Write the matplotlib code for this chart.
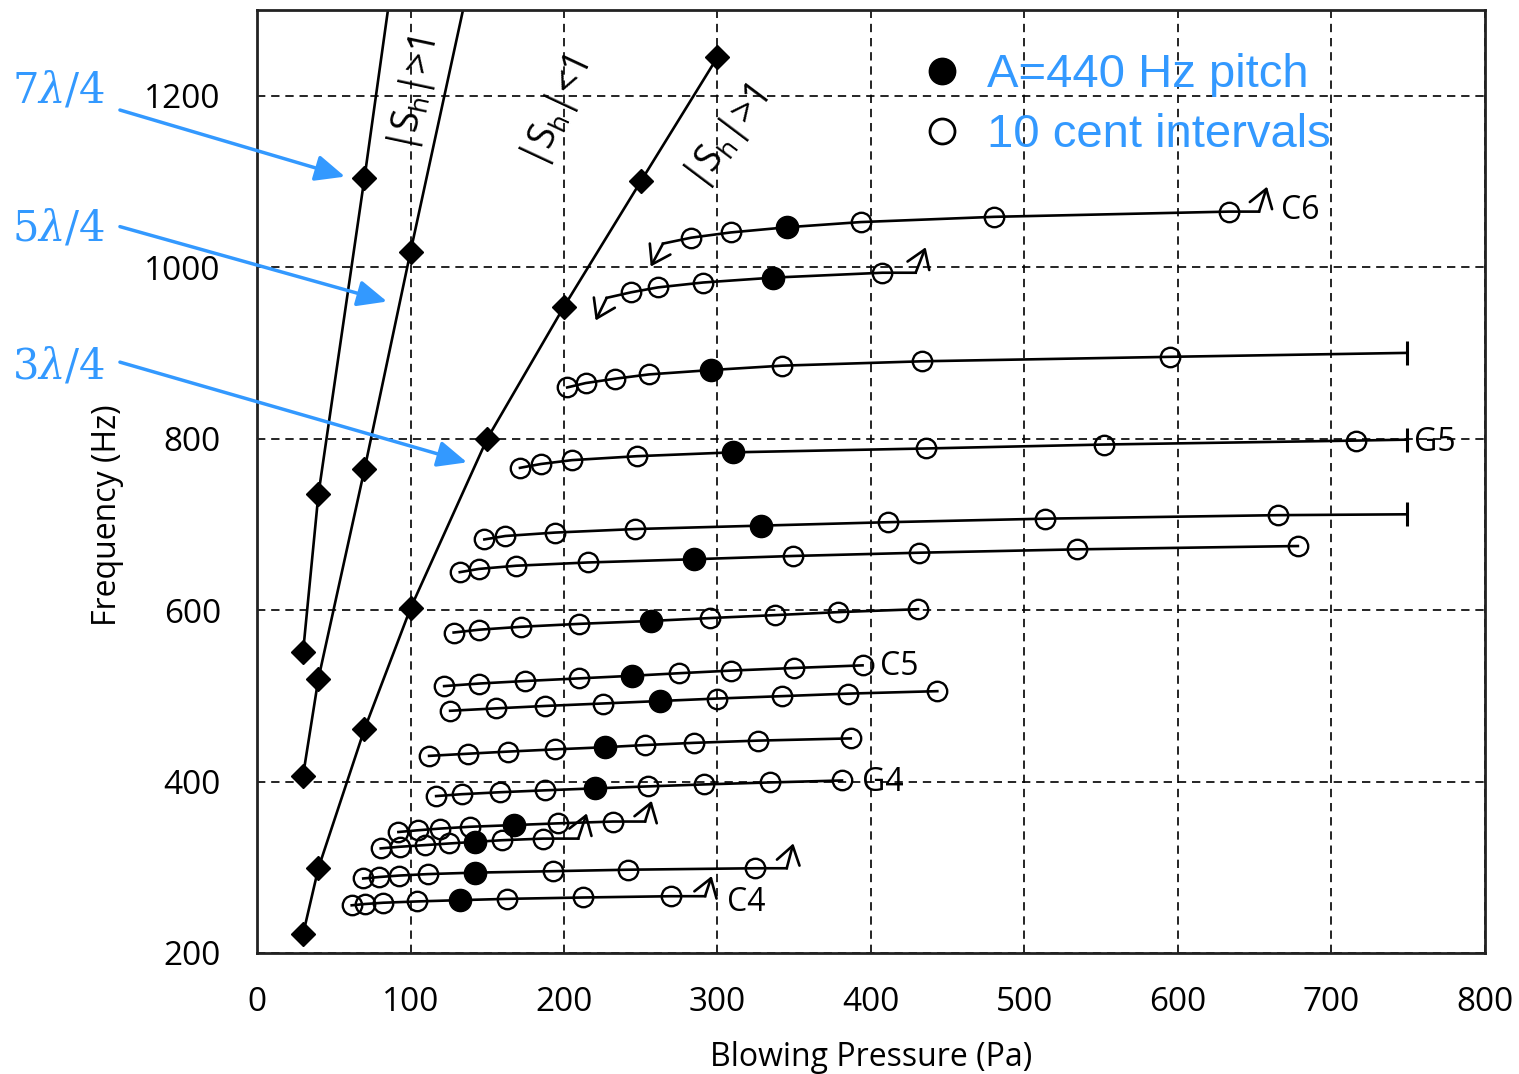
import matplotlib
matplotlib.use("Agg")
import matplotlib.pyplot as plt
from matplotlib.lines import Line2D

plt.rcParams['font.family'] = ['Open Sans', 'DejaVu Sans']

# resonance curves (diamonds): blowing pressure (Pa) vs frequency (Hz)
res_pa = [30, 40, 70, 100, 150, 200, 250, 300]
res3_hz = [222, 299, 461, 602, 800, 954, 1100, 1245]
res5_hz = [407, 520, 764, 1018]
res7_hz = [551, 735, 1104]
# the two upper curves run on out of the top of the plot
res5_top = [134.2, 1300]
res7_top = [85.3, 1300]

# played notes, 10 cent steps around the A=440 pitch
c4_pa = [61.7, 70.4, 82.3, 104.4, 132.2, 162.7, 212.4, 269.7]
c4_hz = [255.6, 257.1, 258.6, 260.1, 261.6, 263.1, 264.7, 266.2]
d4_pa = [69.2, 79.7, 92.7, 111.2, 142.0, 192.8, 241.7, 324.4]
d4_hz = [286.9, 288.6, 290.3, 292.0, 293.7, 295.4, 297.1, 298.8]
e4_pa = [80.6, 93.2, 109.4, 125.1, 142.0, 159.4, 186.3]
e4_hz = [322.0, 323.9, 325.8, 327.7, 329.6, 331.5, 333.4]
f4_pa = [92.1, 104.7, 119.2, 138.8, 167.6, 196.1, 231.9]
f4_hz = [341.1, 343.1, 345.1, 347.2, 349.2, 351.2, 353.3]
g4_pa = [116.7, 133.4, 158.4, 187.4, 219.9, 254.8, 291.3, 334.3, 381.1]
g4_hz = [383.0, 385.2, 387.5, 389.7, 392.0, 394.3, 396.6, 398.9, 401.2]
a4_pa = [112.1, 137.2, 163.5, 194.3, 226.7, 252.5, 284.5, 326.3, 386.8]
a4_hz = [429.9, 432.4, 434.9, 437.5, 440.0, 442.5, 445.1, 447.7, 450.3]
b4_pa = [125.8, 155.5, 187.4, 225.1, 262.3, 300.0, 342.3, 384.9, 443.2]
b4_hz = [482.5, 485.3, 488.1, 491.0, 493.9, 496.8, 499.6, 502.5, 505.4]
c5_pa = [121.9, 144.8, 174.4, 209.8, 244.0, 274.7, 309.1, 349.6, 394.5]
c5_hz = [511.3, 514.3, 517.2, 520.3, 523.3, 526.3, 529.4, 532.4, 535.5]
d5_pa = [128.1, 144.8, 172.1, 209.8, 256.6, 295.4, 337.7, 378.8, 430.6]
d5_hz = [573.8, 577.1, 580.5, 583.9, 587.3, 590.7, 594.1, 597.6, 601.0]
e5_pa = [132.1, 144.6, 168.7, 215.4, 284.6, 349.5, 431.5, 534.1, 678.1]
e5_hz = [644.2, 648.0, 651.7, 655.5, 659.3, 663.1, 666.9, 670.8, 674.7]
f5_pa = [148.1, 161.8, 194.2, 246.3, 328.5, 411.3, 513.1, 664.9]
f5_hz = [682.4, 686.4, 690.4, 694.5, 698.5, 702.5, 706.6, 710.7]
g5_pa = [171.3, 185.0, 205.2, 247.6, 310.1, 435.8, 551.8, 716.0]
g5_hz = [765.9, 770.4, 774.9, 779.5, 784.0, 788.5, 793.1, 797.7]
a5_pa = [202.1, 214.1, 233.0, 255.4, 296.0, 342.2, 433.4, 594.8]
a5_hz = [859.7, 864.8, 869.8, 874.9, 880.0, 885.1, 890.2, 895.4]
b5_pa = [243.8, 261.2, 290.6, 336.4, 407.4]
b5_hz = [970.7, 976.4, 982.1, 987.8, 993.5]
c6_pa = [282.9, 308.6, 345.1, 393.3, 480.1, 633.2]
c6_hz = [1034.4, 1040.5, 1046.5, 1052.6, 1058.7, 1064.8]

notes = ['C4', 'D4', 'E4', 'F4', 'G4', 'A4', 'B4', 'C5', 'D5', 'E5', 'F5', 'G5', 'A5', 'B5', 'C6']
notes_pa = [c4_pa, d4_pa, e4_pa, f4_pa, g4_pa, a4_pa, b4_pa, c5_pa, d5_pa, e5_pa, f5_pa, g5_pa, a5_pa, b5_pa, c6_pa]
notes_hz = [c4_hz, d4_hz, e4_hz, f4_hz, g4_hz, a4_hz, b4_hz, c5_hz, d5_hz, e5_hz, f5_hz, g5_hz, a5_hz, b5_hz, c6_hz]
# index of the A=440 pitch point on each line
pitch_idx = [4, 4, 4, 4, 4, 4, 4, 4, 4, 4, 4, 4, 4, 3, 2]

# jumps to the next regime: line bends, then an arrow
jump_note = ['C4', 'D4', 'E4', 'F4', 'B5', 'C6', 'B5', 'C6']
jump_side = ['right', 'right', 'right', 'right', 'right', 'right', 'left', 'left']
jump_bend_pa = [291.9, 345.1, 209.3, 252.8, 429.1, 652.8, 227.8, 264.5]
jump_bend_hz = [266.2, 298.8, 333.4, 353.3, 993.5, 1064.8, 964.2, 1027.5]
jump_tip_pa = [296.2, 349.4, 214.8, 257.1, 435.6, 658.0, 220.6, 256.5]
jump_tip_hz = [289.7, 327.8, 362.8, 377.5, 1023.2, 1093.9, 937.8, 1000.7]

# lines that stop at the end of the measured range
stop_note = ['F5', 'G5', 'A5']
stop_pa = [749.2, 749.2, 749.2]
stop_hz = [711.7, 798.8, 900.0]

# note names written next to some lines
name_text = ['C4', 'G4', 'C5', 'G5', 'C6']
name_pa = [306.2, 394.1, 405.9, 753.7, 667.1]
name_hz = [258.3, 399.3, 534.5, 795.6, 1066.0]

# wavelength labels on the left
lam_text = [r'$7\lambda/4$', r'$5\lambda/4$', r'$3\lambda/4$']
lam_pa = [-159.6, -159.6, -159.6]
lam_hz = [1191.8, 1031.0, 869.8]
lam_from_pa = [-89.3, -89.3, -89.3]
lam_from_hz = [1183.3, 1047.3, 889.2]
lam_to_pa = [57.3, 84.7, 136.8]
lam_to_hz = [1105.6, 959.9, 772.3]

# |S_h| region labels
sh_text = ['|S$_\\mathregular{h}$|>1', '|S$_\\mathregular{h}$|<1', '|S$_\\mathregular{h}$|>1']
sh_pa = [102.3, 194.8, 306.2]
sh_hz = [1201, 1180, 1150]
sh_rot = [78, 65, 53]

blue = '#3399FF'

fig = plt.figure(figsize=(15.19, 10.74), dpi=100)
ax = fig.add_axes([0.1692, 0.1127, 0.8084, 0.8780])

ax.set_xlim(0, 800)
ax.set_ylim(200, 1300)
ax.set_xticks(range(0, 801, 100))
ax.set_yticks(range(200, 1201, 200))
ax.tick_params(length=0, labelsize=24, pad=24)
ax.tick_params(axis='y', pad=26)
ax.grid(True, color='k', lw=1.2, ls=(0, (5, 3.5)))
ax.set_axisbelow(True)
for s in ax.spines.values():
    s.set_linewidth(2)
    s.set_color('#222222')

ax.set_xlabel('Blowing Pressure (Pa)', fontsize=23)
ax.set_ylabel('Frequency (Hz)', fontsize=23)
ax.xaxis.set_label_coords(0.5, -0.093)
ax.yaxis.set_label_coords(-0.108, 0.464)

# resonance curves
ax.plot(res_pa, res3_hz, color='k', lw=1.9, marker='D', ms=12)
ax.plot(res_pa[:4] + [res5_top[0]], res5_hz + [res5_top[1]], color='k', lw=1.9,
        marker='D', ms=12, markevery=[0, 1, 2, 3])
ax.plot(res_pa[:3] + [res7_top[0]], res7_hz + [res7_top[1]], color='k', lw=1.9,
        marker='D', ms=12, markevery=[0, 1, 2])

# note lines
for name, pa, hz, k in zip(notes, notes_pa, notes_hz, pitch_idx):
    xs = list(pa)
    ys = list(hz)
    for j, n in enumerate(jump_note):
        if n != name:
            continue
        if jump_side[j] == 'right':
            xs.append(jump_bend_pa[j])
            ys.append(jump_bend_hz[j])
        else:
            xs.insert(0, jump_bend_pa[j])
            ys.insert(0, jump_bend_hz[j])
    for j, n in enumerate(stop_note):
        if n == name:
            xs.append(stop_pa[j])
            ys.append(stop_hz[j])
            ax.plot(stop_pa[j], stop_hz[j], marker='|', ms=17, mew=2.2, color='k')
    ax.plot(xs, ys, color='k', lw=1.9, zorder=3)
    op = [i for i in range(len(pa)) if i != k]
    ax.plot([pa[i] for i in op], [hz[i] for i in op], ls='none', marker='o', ms=14,
            mfc='none', mec='k', mew=1.7, zorder=4)
    ax.plot(pa[k], hz[k], ls='none', marker='o', ms=16, color='k', zorder=5)

for j in range(len(jump_note)):
    ax.annotate('', xy=(jump_tip_pa[j], jump_tip_hz[j]), xytext=(jump_bend_pa[j], jump_bend_hz[j]),
                arrowprops=dict(arrowstyle='->,head_length=0.45,head_width=0.3', lw=1.9,
                                color='k', shrinkA=0, shrinkB=0, mutation_scale=28))

for t, x, y in zip(name_text, name_pa, name_hz):
    ax.text(x, y, t, fontsize=23, ha='left', va='center')

for t, x, y, r in zip(sh_text, sh_pa, sh_hz, sh_rot):
    ax.text(x, y, t, fontsize=27, rotation=r, ha='center', va='center',
            rotation_mode='anchor')

for j in range(len(lam_text)):
    ax.text(lam_pa[j], lam_hz[j], lam_text[j], fontsize=30, color=blue, ha='left',
            va='baseline', math_fontfamily='dejavuserif', clip_on=False)
    ax.annotate('', xy=(lam_to_pa[j], lam_to_hz[j]), xytext=(lam_from_pa[j], lam_from_hz[j]),
                annotation_clip=False,
                arrowprops=dict(arrowstyle='-|>,head_length=0.9,head_width=0.4', lw=2.5,
                                color=blue, shrinkA=0, shrinkB=0, mutation_scale=20))

handles = [Line2D([], [], ls='none', marker='o', ms=19, color='k'),
           Line2D([], [], ls='none', marker='o', ms=18, mfc='none', mec='k', mew=2)]
leg = ax.legend(handles, ['A=440 Hz pitch', '10 cent intervals'], loc='upper left',
                bbox_to_anchor=(0.5387, 0.954), frameon=False, handlelength=1,
                handletextpad=0.45, borderpad=0, borderaxespad=0, labelspacing=0.34,
                prop={'family': 'Liberation Sans', 'size': 34})
for t in leg.get_texts():
    t.set_color(blue)

fig.savefig('out.png', dpi=100)
